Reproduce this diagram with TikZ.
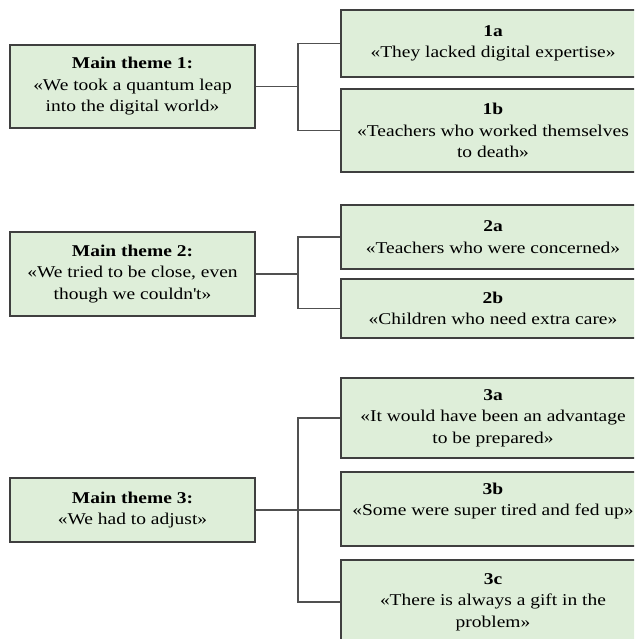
\documentclass[tikz,border=0pt]{standalone}
\usepackage{fontspec}
\setmainfont[FakeStretch=1.18]{Liberation Serif}
\definecolor{boxfill}{HTML}{DEEED9}
\definecolor{boxline}{HTML}{3F3F3F}
\definecolor{conn}{HTML}{505050}
\begin{document}
\begin{tikzpicture}[x=1pt,y=-1pt,
  box/.style={draw=boxline, fill=boxfill, line width=1.1pt, align=center,
    inner sep=0pt, font=\fontsize{16.5}{21.5}\selectfont},
  mainbox/.style={box, minimum width=245pt},
  subbox/.style={box, minimum width=304pt},
  link/.style={draw=conn, line width=1.2pt}]
\useasboundingbox (0,0) rectangle (634,639);
\clip (0,0) rectangle (634,639);
% group 1
\node[mainbox, minimum height=83pt] (m1) at (132.5,86.5)
  {\textbf{Main theme 1:}\\«We took a quantum leap\\into the digital world»};
\node[subbox, minimum height=67pt] (s1a) at (493,43.5)
  {\textbf{1a}\\«They lacked digital expertise»};
\node[subbox, minimum height=83pt] (s1b) at (493,130.5)
  {\textbf{1b}\\«Teachers who worked themselves\\to death»};
\coordinate (j1) at (298,86.5);
\draw[link] (m1.east) -- (j1);
\draw[link] (s1a.west) -| (j1) |- (s1b.west);
% group 2
\node[mainbox, minimum height=84pt] (m2) at (132.5,274)
  {\textbf{Main theme 2:}\\«We tried to be close, even\\though we couldn\textquotesingle t»};
\node[subbox, minimum height=64pt] (s2a) at (493,237)
  {\textbf{2a}\\«Teachers who were concerned»};
\node[subbox, minimum height=59pt] (s2b) at (493,308.5)
  {\textbf{2b}\\«Children who need extra care»};
\coordinate (j2) at (298,274);
\draw[link] (m2.east) -- (j2);
\draw[link] (s2a.west) -| (j2) |- (s2b.west);
% group 3
\node[mainbox, minimum height=64pt] (m3) at (132.5,510)
  {\textbf{Main theme 3:}\\«We had to adjust»};
\node[subbox, minimum height=80pt] (s3a) at (493,418)
  {\textbf{3a}\\«It would have been an advantage\\to be prepared»};
\node[subbox, minimum height=74pt] (s3b) at (493,509)
  {\textbf{3b}\\«Some were super tired and fed up»\\[-8pt]\strut};
\node[subbox, minimum height=84pt] (s3c) at (493,602)
  {\textbf{3c}\\«There is always a gift in the\\problem»};
\coordinate (j3) at (298,510);
\draw[link] (m3.east) -- (m3.east -| s3b.west);
\draw[link] (s3a.west) -| (j3) |- (s3c.west);
\end{tikzpicture}
\end{document}
